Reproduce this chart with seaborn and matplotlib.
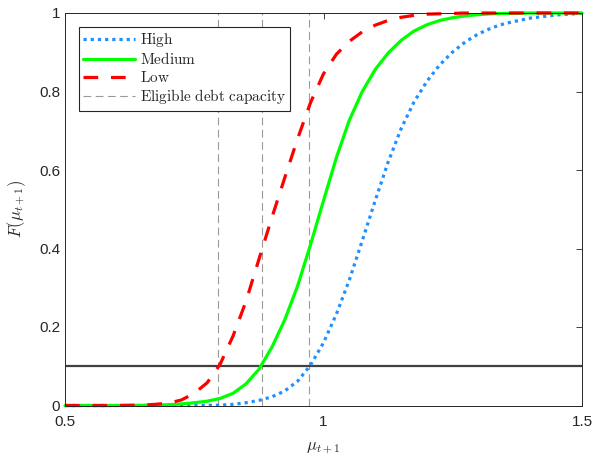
import matplotlib
matplotlib.use("Agg")
import matplotlib.pyplot as plt
import seaborn as sns
import pandas as pd

# ---- data ----
mu = [0.50, 0.55, 0.60, 0.65, 0.675, 0.70, 0.725, 0.75, 0.775, 0.80, 0.825, 0.85,
      0.875, 0.90, 0.925, 0.95, 0.975, 1.00, 1.025, 1.05, 1.075, 1.10, 1.125,
      1.15, 1.175, 1.20, 1.225, 1.25, 1.275, 1.30, 1.325, 1.35, 1.40, 1.45, 1.50]

high = [0.0, 0.0, 0.0, 0.0, 0.0, 0.0, 0.0, 0.0, 0.0005, 0.001, 0.003, 0.007,
        0.013, 0.022, 0.037, 0.062, 0.103, 0.16, 0.233, 0.32, 0.42, 0.522, 0.62,
        0.705, 0.773, 0.826, 0.868, 0.901, 0.927, 0.947, 0.962, 0.973, 0.987, 0.995, 0.999]

medium = [0.0, 0.0, 0.0, 0.0005, 0.001, 0.002, 0.004, 0.007, 0.011, 0.018, 0.031, 0.055,
          0.092, 0.148, 0.218, 0.305, 0.41, 0.522, 0.632, 0.727, 0.80, 0.856, 0.898,
          0.93, 0.954, 0.970, 0.981, 0.988, 0.993, 0.996, 0.998, 0.999, 1.0, 1.0, 1.0]

low = [0.0, 0.0, 0.0, 0.001, 0.003, 0.006, 0.014, 0.031, 0.058, 0.105, 0.177, 0.265,
       0.372, 0.478, 0.58, 0.68, 0.772, 0.845, 0.895, 0.928, 0.952, 0.969, 0.981,
       0.989, 0.994, 0.997, 0.998, 0.999, 1.0, 1.0, 1.0, 1.0, 1.0, 1.0, 1.0]

debt_capacity = [0.7965, 0.8805, 0.9725]   # Low, Medium, High
threshold = 0.1

series_names = ["High", "Medium", "Low"]
x_ticks = [0.5, 1.0, 1.5]
x_ticklabels = ["0.5", "1", "1.5"]
y_ticks = [0, 0.2, 0.4, 0.6, 0.8, 1.0]
y_ticklabels = ["0", "0.2", "0.4", "0.6", "0.8", "1"]

# ---- plotting ----
sns.set_style("white")
plt.rcParams["font.family"] = ["Liberation Sans", "DejaVu Sans"]
plt.rcParams["mathtext.fontset"] = "cm"

df = pd.DataFrame({"mu": mu, "High": high, "Medium": medium, "Low": low})

fig = plt.figure(figsize=(5.94, 4.59), dpi=100)
ax = fig.add_axes([65 / 594, 1 - 405.5 / 459, (582 - 65) / 594, (405.5 - 13) / 459])

styles = {
    "High": dict(color="#1E90FF", linestyle=(0, (1.0, 1.25)), linewidth=2.3),
    "Medium": dict(color="#00FF00", linestyle="-", linewidth=2.3),
    "Low": dict(color="#FF0000", linestyle=(0, (4.6, 4.0)), linewidth=2.3),
}

for name in series_names:
    sns.lineplot(data=df, x="mu", y=name, ax=ax, label=r"$\mathrm{%s}$" % name,
                 estimator=None, sort=False, clip_on=False, **styles[name])

for i, v in enumerate(debt_capacity):
    ax.axvline(v, color="#9a9a9a", linestyle=(0, (7, 4)), linewidth=0.8,
               label=r"$\mathrm{Eligible\ debt\ capacity}$" if i == 0 else None, zorder=1)

ax.axhline(threshold, color="#404040", linewidth=1.6, zorder=1.5)

ax.set_xlim(0.5, 1.5)
ax.set_ylim(0, 1)
ax.set_xticks(x_ticks)
ax.set_xticklabels(x_ticklabels)
ax.set_yticks(y_ticks)
ax.set_yticklabels(y_ticklabels)
ax.tick_params(direction="in", length=4, width=0.6, colors="#262626",
               labelsize=11, top=True, right=True, labelcolor="#262626")
ax.tick_params(axis="x", pad=7)
for sp in ax.spines.values():
    sp.set_visible(True)
    sp.set_color("#262626")
    sp.set_linewidth(0.7)

ax.set_xlabel(r"$\mu_{t+1}$", fontsize=12, color="#262626", labelpad=8)
ax.set_ylabel(r"$F(\mu_{t+1})$", fontsize=12, color="#262626", labelpad=8)

leg = ax.legend(loc="upper left", bbox_to_anchor=(0.027, 0.965), fontsize=11,
                handlelength=3.4, handletextpad=0.3, labelspacing=0.16,
                borderpad=0.28, borderaxespad=0.0, fancybox=False, framealpha=1,
                edgecolor="#262626")
leg.get_frame().set_linewidth(0.8)

fig.savefig("out.png", dpi=100)
